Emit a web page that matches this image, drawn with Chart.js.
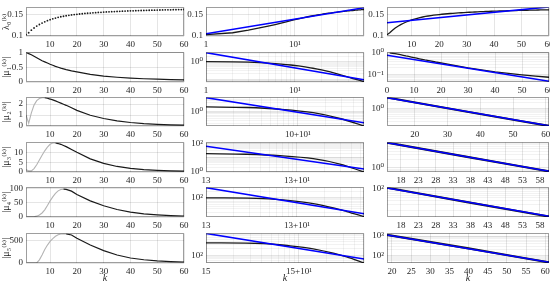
<!DOCTYPE html>
<html lang="en">
<head>
<meta charset="UTF-8">
<title>lambda0 / mu decay panels</title>
<script src="https://cdn.jsdelivr.net/npm/chart.js"></script>
<style>
  html, body { margin: 0; padding: 0; background: #fff; }
  #wrap { position: relative; width: 550px; height: 284px; overflow: hidden; }
  #wrap canvas { position: absolute; }
</style>
</head>
<body>
<div id="wrap"></div>
<script>
// ---- data ----
const kLam = [1,2,3,4,5,6,7,8,9,10,11,12,13,14,15,16,17,18,19,20,21,22,23,24,25,26,27,28,29,30,
              31,32,33,34,35,36,37,38,39,40,41,42,43,44,45,46,47,48,49,50,51,52,53,54,55,56,57,58,59,60];
const lam0 = [0.1030,0.1075,0.1135,0.1185,0.1228,0.1265,0.1298,0.1327,0.1353,0.1376,
              0.1396,0.1414,0.1430,0.1444,0.1456,0.1467,0.1477,0.1486,0.1494,0.1501,
              0.1508,0.1514,0.1520,0.1525,0.1530,0.1535,0.1539,0.1543,0.1547,0.1551,
              0.1555,0.1558,0.1561,0.1564,0.1567,0.1570,0.1573,0.1575,0.1578,0.1580,
              0.1582,0.1584,0.1586,0.1588,0.1590,0.1592,0.1594,0.1595,0.1597,0.1598,
              0.1600,0.1601,0.1603,0.1604,0.1605,0.1607,0.1608,0.1609,0.1610,0.1612];

const kMu = [1,2,3,4,5,6,7,8,9,10,11,12,13,14,15,16,18,20,25,30,35,40,45,50,55,60];
const mu1 = [1.0,0.96,0.92,0.87,0.82,0.77,0.72,0.68,0.64,0.60,0.565,0.53,0.50,0.47,0.445,0.42,0.375,0.34,0.26,0.20,0.16,0.13,0.11,0.095,0.083,0.073];
const mu2 = [1.0,0.25,1.2,1.9,2.3,2.5,2.58,2.58,2.52,2.45,2.37,2.28,2.18,2.08,1.98,1.88,1.66,1.42,0.98,0.68,0.47,0.32,0.22,0.15,0.105,0.075];
const mu3 = [1.2,0.6,0.6,1.8,3.8,6.3,8.8,11.1,13.0,14.5,15.2,15.2,14.9,14.5,13.9,13.3,11.8,10.3,6.9,4.5,2.9,1.9,1.25,0.85,0.6,0.45];
const mu4 = [0.5,0.3,0.3,0.8,3,7,14,25,40,56,70,82,91,96,97,96,90,78,56,39,26,17,11,7.5,5,3.5];
const mu5 = [0,0,0,1,5,70,180,300,400,480,545,595,628,645,652,650,625,550,400,275,178,112,72,47,32,22];
const peakK = [8, 12, 15, 16];   // grey (rising) part ends here for mu2..mu5

// middle column: log-log tails, x counted from the offset printed on the axis
const tailX = [
  [1, 2.77, 6.38, 14.7, 28.7, 52.5],
  [1, 2.8, 6.5, 15.1, 29.7, 54.5],
  [1, 4.27, 8.4, 15.1, 25.1, 35.2, 54.5],
  [1, 4.14, 8.0, 14.2, 23.4, 32.5, 50]
];
const tailY = [
  [1.78, 1.64, 1.30, 0.82, 0.38, 0.14],
  [18.3, 16.5, 13.1, 8.0, 3.3, 0.9],
  [100, 91, 73, 53, 33, 22, 12.5],
  [345, 324, 258, 191, 123, 84, 46]
];
const fitLogX = [[1, 60], [1, 60], [1, 52.5], [1, 54.5], [1, 54.5], [1, 50]];
const fitLogY = [[0.105, 0.165], [3.2, 0.095], [6.1, 0.216], [61, 1.48], [307, 17.3], [890, 68]];

// right column: semilog tails
const semiX = [[11.5, 36, 61], [14, 37, 60.6], [14, 37, 60.6], [18.7, 40, 61]];
const semiY = [[3.85, 0.69, 0.124], [8.4, 2.5, 0.74], [105, 36, 12.5], [1150, 225, 42]];
const fitSemiX = [[1, 60], [0, 60], [11.5, 61], [14, 60.6], [14, 60.6], [18.7, 61]];
const fitSemiY = [[0.131, 0.168], [0.78, 0.048], [3.75, 0.126], [8.2, 0.75], [103, 12.8], [1120, 43]];

// axes
const yTitles = ['λ₀⁽ᵏ⁾', '|μ₁⁽ᵏ⁾|', '|μ₂⁽ᵏ⁾|', '|μ₃⁽ᵏ⁾|', '|μ₄⁽ᵏ⁾|', '|μ₅⁽ᵏ⁾|'];
const col1XTicks = [10, 20, 30, 40, 50, 60];
const col1YTicks = [[0.1, 0.15], [0, 0.5, 1], [0, 1, 2], [0, 5, 10], [0, 50, 100], [0, 500]];
const col1YRange = [[0.1, 0.166], [0, 1], [0, 2.6], [0, 15.5], [0, 103], [0, 660]];
const col2XLabels = [['1', '10¹'], ['1', '10¹'], ['', '10+10¹'], ['13', '13+10¹'], ['13', '13+10¹'], ['15', '15+10¹']];
const col2YRange = [[0.1, 0.166], [0.07, 3.3], [0.14, 6.3], [0.9, 115], [12, 316], [46, 890]];
const col2YPow = [null, [0], [0], [0, 2], [2], [2]];
const col3XTicks = [[10, 20, 30, 40, 50, 60], [0, 10, 20, 30, 40, 50, 60], [20, 30, 40, 50, 60],
                    [18, 23, 28, 33, 38, 43, 48, 53, 58], [18, 23, 28, 33, 38, 43, 48, 53, 58],
                    [20, 25, 30, 35, 40, 45, 50, 55, 60]];
const col3YRange = [[0.1, 0.1668], [0.044, 1.05], [0.123, 3.9], [0.73, 8.5], [12.1, 107], [39, 1370]];
const col3YPow = [null, [-1, 0], [0], [0], [2], [2, 3]];

// ---- layout ----
const SERIF = "'Liberation Serif', 'DejaVu Serif', serif";
const colLeft = [26, 206, 387], colRight = [184, 364, 549];
const rowTop = [3, 48, 93, 138, 183, 229], rowBottom = [36, 82, 126, 172, 217, 263];
const BLACK = '#1a1a1a', GREY = '#b4b4b4', BLUE = '#0000ff';

const SUP = { '0': '⁰', '1': '¹', '2': '²', '3': '³', '4': '⁴', '5': '⁵', '6': '⁶', '7': '⁷', '8': '⁸', '9': '⁹', '-': '⁻' };
const pow10 = e => '10' + String(e).split('').map(ch => SUP[ch]).join('');
const isDecade = v => v > 0 && Math.abs(Math.log10(v) - Math.round(Math.log10(v))) < 1e-9;

function logGrid(min, max) {
  const out = [];
  for (let e = Math.floor(Math.log10(min)); e <= Math.ceil(Math.log10(max)); e++) {
    for (let m = 1; m < 10; m++) {
      const v = m * Math.pow(10, e);
      if (v >= min * 0.9999 && v <= max * 1.0001) out.push(v);
    }
  }
  return out;
}

const pts = (xs, ys) => xs.map((x, i) => ({ x: x, y: ys[i] }));
const line = (data, color, width, extra) =>
  Object.assign({ data: data, borderColor: color, borderWidth: width, pointRadius: 0, fill: false }, extra || {});

function linAxis(min, max, ticks) {
  return { type: 'linear', min: min, max: max, grid: ticks, marks: ticks.map(v => [v, String(v)]) };
}
function logAxis(min, max, marks) {
  return { type: 'logarithmic', min: min, max: max, grid: logGrid(min, max), marks: marks };
}

function axis(o, fit) {
  return {
    type: o.type, min: o.min, max: o.max,
    afterFit: fit,
    afterBuildTicks: s => { s.ticks = o.grid.map(v => ({ value: v })); },
    ticks: {
      autoSkip: false, maxRotation: 0, padding: 3, color: '#262626',
      font: { family: SERIF, size: 9 },
      callback: v => {
        const hit = o.marks.find(m => Math.abs(m[0] - v) <= 1e-6 * Math.max(1e-9, Math.abs(m[0])) || m[0] === v);
        return hit ? hit[1] : '';
      }
    },
    grid: {
      drawTicks: false, lineWidth: 1,
      color: ctx => (o.type === 'linear' || isDecade(ctx.tick.value)) ? 'rgba(0,0,0,0.10)' : 'rgba(0,0,0,0.05)'
    },
    border: { display: false }
  };
}

const boxPlugin = {
  id: 'box',
  afterDraw(chart) {
    const a = chart.chartArea, c = chart.ctx;
    c.save();
    c.strokeStyle = 'rgba(0,0,0,0.38)';
    c.lineWidth = 1;
    c.strokeRect(Math.round(a.left) + 0.5, Math.round(a.top) + 0.5,
                 Math.round(a.right - a.left) - 1, Math.round(a.bottom - a.top) - 1);
    c.restore();
  }
};

const wrap = document.getElementById('wrap');

function makePanel(r, c, xo, yo, datasets, yTitle) {
  const yw = c === 0 ? 26 : 22, xh = r === 5 ? 22 : 12, padT = 4, padR = 8;
  const cv = document.createElement('canvas');
  cv.width = colRight[c] - colLeft[c] + yw + padR;
  cv.height = rowBottom[r] - rowTop[r] + padT + xh;
  cv.style.left = (colLeft[c] - yw) + 'px';
  cv.style.top = (rowTop[r] - padT) + 'px';
  wrap.appendChild(cv);

  const x = axis(xo, s => { s.height = xh; });
  const y = axis(yo, s => { s.width = yw; });
  if (r === 5) {
    x.title = { display: true, text: 'k', padding: { top: 0, bottom: 1 }, color: '#262626',
                font: { family: SERIF, size: 10, style: 'italic' } };
  }
  if (yTitle) {
    y.title = { display: true, text: yTitle, padding: 0, color: '#262626',
                font: { family: SERIF, size: 10 } };
  }
  new Chart(cv, {
    type: 'line',
    data: { datasets: datasets },
    options: {
      responsive: false,
      animation: false,
      layout: { padding: { top: padT, right: padR, left: 0, bottom: 0 } },
      plugins: { legend: { display: false }, tooltip: { enabled: false } },
      scales: { x: x, y: y }
    },
    plugins: [boxPlugin]
  });
}

// ---- left column: the sequences against k ----
const muAll = [mu1, mu2, mu3, mu4, mu5];
makePanel(0, 0, linAxis(1, 60, col1XTicks), linAxis(col1YRange[0][0], col1YRange[0][1], col1YTicks[0]),
  [line(pts(kLam, lam0), BLACK, 0, { showLine: false, pointRadius: 0.9, pointBackgroundColor: BLACK, pointBorderWidth: 0 })],
  yTitles[0]);
makePanel(1, 0, linAxis(1, 60, col1XTicks), linAxis(col1YRange[1][0], col1YRange[1][1], col1YTicks[1]),
  [line(pts(kMu, mu1), BLACK, 1.2)], yTitles[1]);
for (let i = 2; i < 6; i++) {
  const all = pts(kMu, muAll[i - 1]);
  const kp = peakK[i - 2];
  makePanel(i, 0, linAxis(1, 60, col1XTicks), linAxis(col1YRange[i][0], col1YRange[i][1], col1YTicks[i]),
    [line(all.filter(p => p.x >= kp), BLACK, 1.2), line(all.filter(p => p.x <= kp), GREY, 1.1)],
    yTitles[i]);
}

// ---- middle column: log-log with power fit ----
function col2X(r) {
  const lab = col2XLabels[r];
  return logAxis(fitLogX[r][0], fitLogX[r][1], [[1, lab[0]], [10, lab[1]]]);
}
makePanel(0, 1, col2X(0), linAxis(col2YRange[0][0], col2YRange[0][1], [0.1, 0.15]),
  [line(pts(fitLogX[0], fitLogY[0]), BLUE, 1.5), line(pts(kLam, lam0), BLACK, 1.3)]);
makePanel(1, 1, col2X(1), logAxis(col2YRange[1][0], col2YRange[1][1], col2YPow[1].map(e => [Math.pow(10, e), pow10(e)])),
  [line(pts(fitLogX[1], fitLogY[1]), BLUE, 1.5), line(pts(kMu, mu1), BLACK, 1.3)]);
for (let i = 2; i < 6; i++) {
  makePanel(i, 1, col2X(i),
    logAxis(col2YRange[i][0], col2YRange[i][1], col2YPow[i].map(e => [Math.pow(10, e), pow10(e)])),
    [line(pts(fitLogX[i], fitLogY[i]), BLUE, 1.5),
     line(pts(tailX[i - 2], tailY[i - 2]), BLACK, 1.3, { cubicInterpolationMode: 'monotone' })]);
}

// ---- right column: semilog with exponential fit ----
makePanel(0, 2, linAxis(1, 60, col3XTicks[0]), linAxis(col3YRange[0][0], col3YRange[0][1], [0.1, 0.15]),
  [line(pts(fitSemiX[0], fitSemiY[0]), BLUE, 1.5), line(pts(kLam, lam0), BLACK, 1.3)]);
makePanel(1, 2, linAxis(0, 60, col3XTicks[1]),
  logAxis(col3YRange[1][0], col3YRange[1][1], col3YPow[1].map(e => [Math.pow(10, e), pow10(e)])),
  [line(pts(fitSemiX[1], fitSemiY[1]), BLUE, 1.5), line(pts(kMu, mu1), BLACK, 1.3)]);
for (let i = 2; i < 6; i++) {
  makePanel(i, 2, linAxis(fitSemiX[i][0], fitSemiX[i][1], col3XTicks[i]),
    logAxis(col3YRange[i][0], col3YRange[i][1], col3YPow[i].map(e => [Math.pow(10, e), pow10(e)])),
    [line(pts(fitSemiX[i], fitSemiY[i]), BLUE, 1.5),
     line(pts(semiX[i - 2], semiY[i - 2]), BLACK, 2.2, { cubicInterpolationMode: 'monotone' })]);
}
</script>
</body>
</html>
